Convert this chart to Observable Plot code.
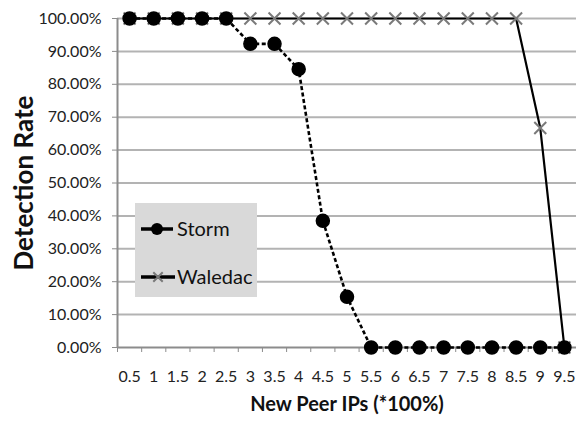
<!DOCTYPE html>
<html>
<head>
<meta charset="utf-8">
<script src="https://cdn.jsdelivr.net/npm/d3@7"></script>
<script src="https://cdn.jsdelivr.net/npm/@observablehq/plot@0.6"></script>
<style>
  html, body { margin: 0; padding: 0; background: #fff; }
  #chart { position: relative; width: 576px; height: 429px; }
  svg { font-family: Lato, "Open Sans", sans-serif; }
</style>
</head>
<body>
<div id="chart"></div>
<script>
// ---- data ----
const xValues = [0.5, 1, 1.5, 2, 2.5, 3, 3.5, 4, 4.5, 5, 5.5, 6, 6.5, 7, 7.5, 8, 8.5, 9, 9.5];
const xTickLabels = ["0.5","1","1.5","2","2.5","3","3.5","4","4.5","5","5.5","6","6.5","7","7.5","8","8.5","9","9.5"];
const stormValues = [100, 100, 100, 100, 100, 92.3, 92.3, 84.6, 38.5, 15.4, 0, 0, 0, 0, 0, 0, 0, 0, 0];
const waledacValues = [100, 100, 100, 100, 100, 100, 100, 100, 100, 100, 100, 100, 100, 100, 100, 100, 100, 66.7, 0];
const yTicks = [0, 10, 20, 30, 40, 50, 60, 70, 80, 90, 100];
const xBoundaryTicks = [0.25, 0.75, 1.25, 1.75, 2.25, 2.75, 3.25, 3.75, 4.25, 4.75, 5.25, 5.75, 6.25, 6.75, 7.25, 7.75, 8.25, 8.75, 9.25, 9.75];
const seriesNames = ["Storm", "Waledac"];

const storm = xValues.map((x, i) => ({x, y: stormValues[i]}));
const waledac = xValues.map((x, i) => ({x, y: waledacValues[i]}));

const plot = Plot.plot({
  width: 576,
  height: 429,
  marginLeft: 117,
  marginRight: 0,
  marginTop: 18,
  marginBottom: 82,
  x: {type: "linear", domain: [0.25, 9.75]},
  y: {domain: [0, 100]},
  marks: [
    Plot.ruleY(yTicks.filter(d => d > 0), {stroke: "#b3b3b3", strokeWidth: 2}),
    Plot.ruleX([0.25], {stroke: "#8c8c8c", strokeWidth: 2}),
    Plot.ruleY([0], {stroke: "#8c8c8c", strokeWidth: 2}),
    Plot.axisY({
      ticks: yTicks,
      tickFormat: d => d.toFixed(2) + "%",
      tickSize: 5,
      tickPadding: 11,
      stroke: "#8c8c8c",
      fill: "#222",
      fontSize: 16,
      label: null
    }),
    Plot.axisX({
      ticks: xBoundaryTicks,
      tickFormat: () => "",
      tickSize: 5,
      stroke: "#8c8c8c",
      label: null
    }),
    Plot.axisX({
      ticks: xValues,
      tickFormat: (d, i) => xTickLabels[i],
      tickSize: 0,
      tickPadding: 23,
      fill: "#222",
      fontSize: 16,
      label: null
    }),
    // Waledac
    Plot.line(waledac, {x: "x", y: "y", stroke: "#000", strokeWidth: 2.2}),
    Plot.dot(waledac, {x: "x", y: "y", symbol: "times", r: 5.5, stroke: "#7a7a7a", strokeWidth: 2}),
    // Storm
    Plot.line(storm, {x: "x", y: "y", stroke: "#000", strokeWidth: 2.6, strokeDasharray: "4,2.5", strokeLinecap: "butt"}),
    Plot.dot(storm, {x: "x", y: "y", r: 6.5, fill: "#000", stroke: "#000"}),
    // axis titles
    Plot.text(["Detection Rate"], {frameAnchor: "left", textAnchor: "middle", dx: -93, rotate: -90, fontSize: 26, fontWeight: "bold", fill: "#111"}),
    Plot.text(["New Peer IPs (*100%)"], {frameAnchor: "bottom", dy: 63, fontSize: 20, fontWeight: "bold", fill: "#111"})
  ]
});

document.getElementById("chart").appendChild(plot);

// legend (inside plot area)
const svg = d3.select(plot);
const lg = svg.append("g").attr("transform", "translate(135,203)");
lg.append("rect").attr("width", 122).attr("height", 94).attr("fill", "#d9d9d9");
lg.append("line").attr("x1", 6).attr("x2", 38).attr("y1", 26).attr("y2", 26).attr("stroke", "#000").attr("stroke-width", 3.5);
lg.append("circle").attr("cx", 22).attr("cy", 26).attr("r", 6).attr("fill", "#000");
lg.append("text").attr("x", 42).attr("y", 26).attr("dy", "0.35em").attr("text-anchor", "start").attr("font-size", 20).attr("fill", "#111").text(seriesNames[0]);
lg.append("line").attr("x1", 6).attr("x2", 40).attr("y1", 74).attr("y2", 74).attr("stroke", "#000").attr("stroke-width", 3.5);
lg.append("path").attr("d", d3.symbol(d3.symbolTimes, 60)()).attr("transform", "translate(23,74)").attr("stroke", "#7a7a7a").attr("stroke-width", 2).attr("fill", "none");
lg.append("text").attr("x", 42).attr("y", 74).attr("dy", "0.35em").attr("text-anchor", "start").attr("font-size", 20).attr("fill", "#111").text(seriesNames[1]);
</script>
</body>
</html>
